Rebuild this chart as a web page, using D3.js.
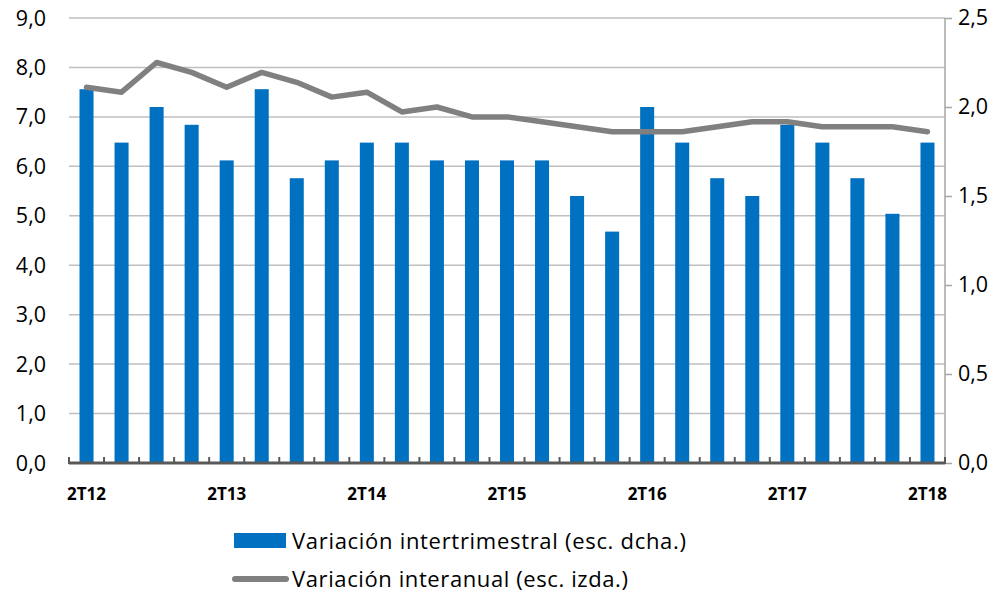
<!DOCTYPE html>
<html>
<head>
<meta charset="utf-8">
<script src="https://cdn.jsdelivr.net/npm/d3@7"></script>
<style>
  body { margin: 0; background: #fff; }
  text { font-family: "Open Sans", sans-serif; fill: #000; }
</style>
</head>
<body>
<svg width="1007" height="593"></svg>
<script>
var quarters = ["2T12","3T12","4T12","1T13","2T13","3T13","4T13","1T14","2T14","3T14","4T14","1T15","2T15","3T15","4T15","1T16","2T16","3T16","4T16","1T17","2T17","3T17","4T17","1T18","2T18"];
var intertrimestral = [2.1,1.8,2.0,1.9,1.7,2.1,1.6,1.7,1.8,1.8,1.7,1.7,1.7,1.7,1.5,1.3,2.0,1.8,1.6,1.5,1.9,1.8,1.6,1.4,1.8];
var interanual = [7.6,7.5,8.1,7.9,7.6,7.9,7.7,7.4,7.5,7.1,7.2,7.0,7.0,6.9,6.8,6.7,6.7,6.7,6.8,6.9,6.9,6.8,6.8,6.8,6.7];
var leftTicks = [0,1,2,3,4,5,6,7,8,9];
var rightTicks = [0,0.5,1,1.5,2,2.5];
var labelled = ["2T12","2T13","2T14","2T15","2T16","2T17","2T18"];

var svg = d3.select("svg");
var plotL = 69, plotR = 945, plotT = 18, plotB = 463;
var fmt = d3.format(".1f");
var comma = function(d) { return fmt(d).replace(".", ","); };

var x = d3.scaleBand().domain(quarters).range([plotL, plotR]).paddingInner(0.6).paddingOuter(0.3);
var band = d3.scaleBand().domain(quarters).range([plotL, plotR]);
var yL = d3.scaleLinear().domain([0, 9]).range([plotB, plotT]);
var yR = d3.scaleLinear().domain([0, 2.5]).range([plotB, plotT]);

// gridlines
svg.append("g").selectAll("line").data(leftTicks.slice(1)).join("line")
    .attr("x1", plotL).attr("x2", plotR)
    .attr("y1", d => yL(d)).attr("y2", d => yL(d))
    .attr("stroke", "#bfbfbf").attr("stroke-width", 1.5);

// left labels
svg.append("g").selectAll("text").data(leftTicks).join("text")
    .attr("x", 46).attr("y", d => yL(d)).attr("dy", "0.35em")
    .attr("text-anchor", "end").style("font-size", "21.5px")
    .text(comma);

// right axis
var rAxis = svg.append("g").attr("transform", "translate(" + plotR + ",0)")
    .call(d3.axisRight(yR).tickValues(rightTicks).tickSize(7).tickPadding(6).tickFormat(comma));
rAxis.select(".domain").attr("stroke", "#a6a6a6").attr("stroke-width", 1.5).attr("d", "M0," + plotT + "V" + plotB);
rAxis.selectAll(".tick line").attr("stroke", "#a6a6a6").attr("stroke-width", 1.5);
rAxis.selectAll(".tick text").style("font-size", "21.5px").style("font-family", "'Open Sans', sans-serif").attr("fill", "#000");

// bars
svg.append("g").selectAll("rect").data(quarters).join("rect")
    .attr("x", d => x(d)).attr("width", x.bandwidth())
    .attr("y", (d, i) => yR(intertrimestral[i]))
    .attr("height", (d, i) => plotB - yR(intertrimestral[i]))
    .attr("fill", "#0070c0");

// line
var line = d3.line()
    .x((d, i) => band(quarters[i]) + band.bandwidth() / 2)
    .y(d => yL(d));
svg.append("path").datum(interanual)
    .attr("d", line).attr("fill", "none")
    .attr("stroke", "#808080").attr("stroke-width", 5.5)
    .attr("stroke-linejoin", "round").attr("stroke-linecap", "round");

// x axis
var xAxis = svg.append("g").attr("transform", "translate(0," + plotB + ")");
xAxis.append("line").attr("x1", plotL).attr("x2", plotR)
    .attr("stroke", "#595959").attr("stroke-width", 3);
xAxis.selectAll(".tk").data(quarters.concat(["end"])).join("line")
    .attr("class", "tk")
    .attr("x1", (d, i) => plotL + i * band.step()).attr("x2", (d, i) => plotL + i * band.step())
    .attr("y1", -6).attr("y2", 1)
    .attr("stroke", "#595959").attr("stroke-width", 2);
xAxis.selectAll("text").data(labelled).join("text")
    .attr("x", d => band(d) + band.bandwidth() / 2).attr("y", 37)
    .attr("text-anchor", "middle").style("font-size", "17px").style("font-weight", "bold")
    .text(d => d);

// legend
var lg = svg.append("g");
lg.append("rect").attr("x", 234).attr("y", 533).attr("width", 52).attr("height", 15).attr("fill", "#0070c0");
lg.append("text").attr("x", 292).attr("y", 541).attr("dy", "0.35em").style("font-size", "22px")
    .attr("textLength", 394).attr("lengthAdjust", "spacing")
    .text("Variación intertrimestral (esc. dcha.)");
lg.append("line").attr("x1", 235).attr("x2", 286).attr("y1", 579).attr("y2", 579)
    .attr("stroke", "#808080").attr("stroke-width", 6).attr("stroke-linecap", "round");
lg.append("text").attr("x", 292).attr("y", 579).attr("dy", "0.35em").style("font-size", "22px")
    .attr("textLength", 336).attr("lengthAdjust", "spacing")
    .text("Variación interanual (esc. izda.)");
</script>
</body>
</html>
